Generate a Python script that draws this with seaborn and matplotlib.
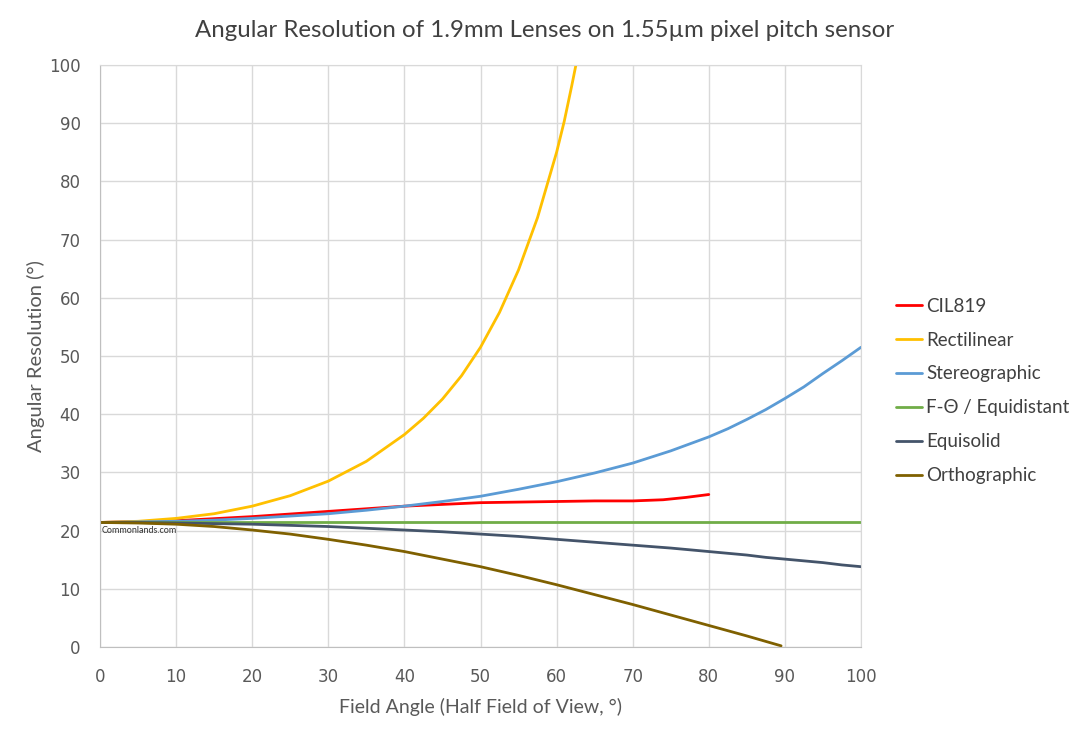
import matplotlib
matplotlib.use("Agg")
import matplotlib.pyplot as plt
import seaborn as sns
import pandas as pd

# values (field angle in deg -> angular resolution)
angle_cil = [0, 10, 20, 30, 40, 50, 60, 65, 70, 74, 77, 80]
cil819 = [21.4, 21.7, 22.4, 23.3, 24.2, 24.8, 25.0, 25.1, 25.1, 25.3, 25.7, 26.2]

angle_rect = [0, 5, 10, 15, 20, 25, 30, 35, 40, 42.5, 45, 47.5, 50, 52.5, 55,
              57.5, 60, 61, 62, 63]
rectilinear = [21.4, 21.6, 22.1, 22.9, 24.2, 26.0, 28.5, 31.9, 36.5, 39.3, 42.6, 46.6,
               51.5, 57.5, 64.8, 73.8, 85.0, 90.3, 96.5, 103.0]

angle_full = [0, 5, 10, 15, 20, 25, 30, 35, 40, 45, 50, 55, 60, 65, 70, 75, 80,
              82.5, 85, 87.5, 90, 92.5, 95, 97.5, 100]
stereographic = [21.4, 21.5, 21.6, 21.8, 22.1, 22.5, 22.9, 23.5, 24.2, 25.0, 25.9, 27.1,
                 28.4, 29.9, 31.6, 33.7, 36.1, 37.5, 39.1, 40.8, 42.7, 44.7, 47.0, 49.2, 51.5]
equidistant = [21.4] * len(angle_full)
equisolid = [21.4, 21.4, 21.3, 21.2, 21.1, 20.9, 20.7, 20.4, 20.1, 19.8, 19.4, 19.0,
             18.5, 18.0, 17.5, 17.0, 16.4, 16.1, 15.8, 15.4, 15.1, 14.8, 14.5, 14.1, 13.8]

angle_ortho = [0, 5, 10, 15, 20, 25, 30, 35, 40, 45, 50, 55, 60, 65, 70, 75, 80, 85, 89.5]
orthographic = [21.4, 21.3, 21.1, 20.7, 20.1, 19.4, 18.5, 17.5, 16.4, 15.1, 13.8, 12.3,
                10.7, 9.0, 7.3, 5.5, 3.7, 1.9, 0.2]

labels = ["CIL819", "Rectilinear", "Stereographic", "F-\u0398 / Equidistant", "Equisolid", "Orthographic"]
colors = ["#FF0000", "#FFC000", "#5B9BD5", "#70AD47", "#44546A", "#7F6000"]

series = [
    (angle_cil, cil819),
    (angle_rect, rectilinear),
    (angle_full, stereographic),
    (angle_full, equidistant),
    (angle_full, equisolid),
    (angle_ortho, orthographic),
]
frames = []
for name, (xs, ys) in zip(labels, series):
    frames.append(pd.DataFrame({"angle": xs, "res": ys, "lens": name}))
df = pd.concat(frames, ignore_index=True)

sns.set_style("white")
plt.rcParams["font.family"] = ["Lato", "DejaVu Sans"]

fig = plt.figure(figsize=(10.9, 7.36), dpi=100)
ax = fig.add_axes([100 / 1090, 89 / 736, 761 / 1090, 582 / 736])

sns.lineplot(data=df, x="angle", y="res", hue="lens", hue_order=labels,
             palette=dict(zip(labels, colors)), linewidth=2.0, ax=ax,
             sort=False, estimator=None)

ax.set_xlim(0, 100)
ax.set_ylim(0, 100)
ax.set_xticks(range(0, 101, 10))
ax.set_yticks(range(0, 101, 10))
ax.grid(True, color="#D9D9D9", linewidth=1)
for s in ax.spines.values():
    s.set_color("#D9D9D9")
ax.spines["bottom"].set_color("#BFBFBF")
ax.spines["left"].set_color("#BFBFBF")

ax.tick_params(length=0, labelsize=12, labelcolor="#595959")
ax.tick_params(axis="y", pad=14)
ax.tick_params(axis="x", pad=15)
for t in ax.get_xticklabels() + ax.get_yticklabels():
    t.set_fontfamily("DejaVu Sans")

ax.set_xlabel("Field Angle (Half Field of View, \u00b0)", fontsize=14, color="#595959", labelpad=9)
ax.set_ylabel("Angular Resolution (\u00b0)", fontsize=14.5, color="#595959", labelpad=3)
fig.text(0.5, 0.958, "Angular Resolution of 1.9mm Lenses on 1.55\u00b5m pixel pitch sensor",
         ha="center", va="center", fontsize=17.3, color="#404040")

ax.text(0.2, 20.0, "Commonlands.com", fontsize=6.5, color="#333333", va="center", ha="left")

ax.legend(loc="center left", bbox_to_anchor=(1.024, 0.44), frameon=False,
          fontsize=13.5, handlelength=1.4, handletextpad=0.2, labelspacing=0.9,
          labelcolor="#404040")

fig.savefig("out.png", dpi=100)
